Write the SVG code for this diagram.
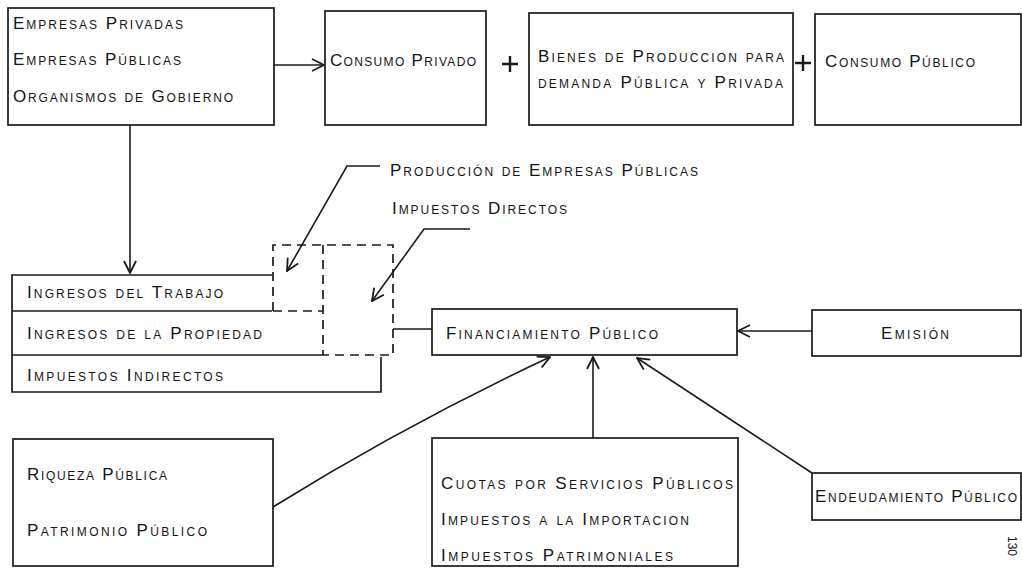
<svg xmlns="http://www.w3.org/2000/svg" width="1022" height="568" viewBox="0 0 1022 568">
<style>
.b{fill:none;stroke:#1a1a1a;stroke-width:1.7}
.d{fill:none;stroke:#1a1a1a;stroke-width:1.7;stroke-dasharray:9 6}
.c{fill:none;stroke:#1a1a1a;stroke-width:1.6}
.p{fill:none;stroke:#1a1a1a;stroke-width:2.4}
.t{font-family:"Liberation Sans",Arial,sans-serif;font-size:17px;font-variant:small-caps;fill:#141414}
.pn{font-family:"Liberation Sans",Arial,sans-serif;font-size:12px;fill:#141414}
</style>
<defs>
<marker id="ah" viewBox="0 0 14 14" refX="13" refY="7" markerWidth="14" markerHeight="14" markerUnits="userSpaceOnUse" orient="auto">
<path d="M1,1 L13,7 L1,13" fill="none" stroke="#1a1a1a" stroke-width="1.8"/>
</marker>
</defs>
<rect width="1022" height="568" fill="#fff"/>

<g id="productores">
<rect class="b" x="8" y="8" width="266" height="117"/>
<text class="t" x="13" y="29" textLength="170" lengthAdjust="spacing">Empresas Privadas</text>
<text class="t" x="13" y="65" textLength="168" lengthAdjust="spacing">Empresas Públicas</text>
<text class="t" x="13" y="102" textLength="220" lengthAdjust="spacing">Organismos de Gobierno</text>
</g>
<g id="consumo-privado">
<rect class="b" x="325" y="11" width="161" height="114"/>
<text class="t" x="330" y="66" textLength="146" lengthAdjust="spacing">Consumo Privado</text>
</g>
<g id="bienes-produccion">
<rect class="b" x="529" y="13" width="264" height="112"/>
<text class="t" x="538" y="62" textLength="246" lengthAdjust="spacing">Bienes de Produccion para</text>
<text class="t" x="538" y="88" textLength="245" lengthAdjust="spacing">demanda Pública y Privada</text>
</g>
<g id="consumo-publico">
<rect class="b" x="815" y="14" width="206" height="111"/>
<text class="t" x="825" y="67" textLength="150" lengthAdjust="spacing">Consumo Público</text>
</g>
<g id="plus">
<path class="p" d="M502,64 H518 M510,56 V72"/>
<path class="p" d="M795,63 H811 M803,55 V71"/>
</g>

<g id="ingresos">
<path class="b" d="M272,275 H12 V392 H381 V357 M12,311 H272 M12,355 H324"/>
<text class="t" x="27" y="298" textLength="196" lengthAdjust="spacing">Ingresos del Trabajo</text>
<text class="t" x="27" y="339" textLength="235" lengthAdjust="spacing">Ingresos de la Propiedad</text>
<text class="t" x="27" y="381" textLength="196" lengthAdjust="spacing">Impuestos Indirectos</text>
</g>
<g id="zona-publica">
<path class="d" d="M273,311 V245 H393 V355 H324 M323,245 V355 M273,311 H323"/>
</g>

<g id="label-produccion">
<text class="t" x="390" y="176" textLength="308" lengthAdjust="spacing">Producción de Empresas Públicas</text>
</g>
<g id="label-directos">
<text class="t" x="392" y="214" textLength="175" lengthAdjust="spacing">Impuestos Directos</text>
</g>

<g id="financiamiento">
<rect class="b" x="432" y="309" width="305" height="46"/>
<text class="t" x="446" y="339" textLength="212" lengthAdjust="spacing">Financiamiento Público</text>
</g>
<g id="emision">
<rect class="b" x="812" y="310" width="209" height="46"/>
<text class="t" x="881" y="339" textLength="68" lengthAdjust="spacing">Emisión</text>
</g>
<g id="riqueza">
<rect class="b" x="13" y="439" width="260" height="127"/>
<text class="t" x="27" y="480" textLength="140" lengthAdjust="spacing">Riqueza Pública</text>
<text class="t" x="27" y="536" textLength="180" lengthAdjust="spacing">Patrimonio Público</text>
</g>
<g id="cuotas">
<rect class="b" x="432" y="438" width="306" height="128"/>
<text class="t" x="441" y="489" textLength="292" lengthAdjust="spacing">Cuotas por Servicios Públicos</text>
<text class="t" x="441" y="525" textLength="248" lengthAdjust="spacing">Impuestos a la Importacion</text>
<text class="t" x="441" y="561" textLength="232" lengthAdjust="spacing">Impuestos Patrimoniales</text>
</g>
<g id="endeudamiento">
<rect class="b" x="812" y="473" width="209" height="47"/>
<text class="t" x="815" y="502" textLength="202" lengthAdjust="spacing">Endeudamiento Público</text>
</g>
<g id="pagina">
<text class="pn" transform="translate(1008,536) rotate(90)">130</text>
</g>

<g id="connectors">
<path class="c" d="M274,65 H324" marker-end="url(#ah)"/>
<path class="c" d="M130,125 V273" marker-end="url(#ah)"/>
<path class="c" d="M380,166 H347 L287,271" marker-end="url(#ah)"/>
<path class="c" d="M470,229 H424 L372,301" marker-end="url(#ah)"/>
<path class="c" d="M393,329 H432"/>
<path class="c" d="M812,331 H738" marker-end="url(#ah)"/>
<path class="c" d="M273,507 Q405,425 550,357" marker-end="url(#ah)"/>
<path class="c" d="M593,438 V357" marker-end="url(#ah)"/>
<path class="c" d="M812,473 L637,358" marker-end="url(#ah)"/>
</g>
</svg>
